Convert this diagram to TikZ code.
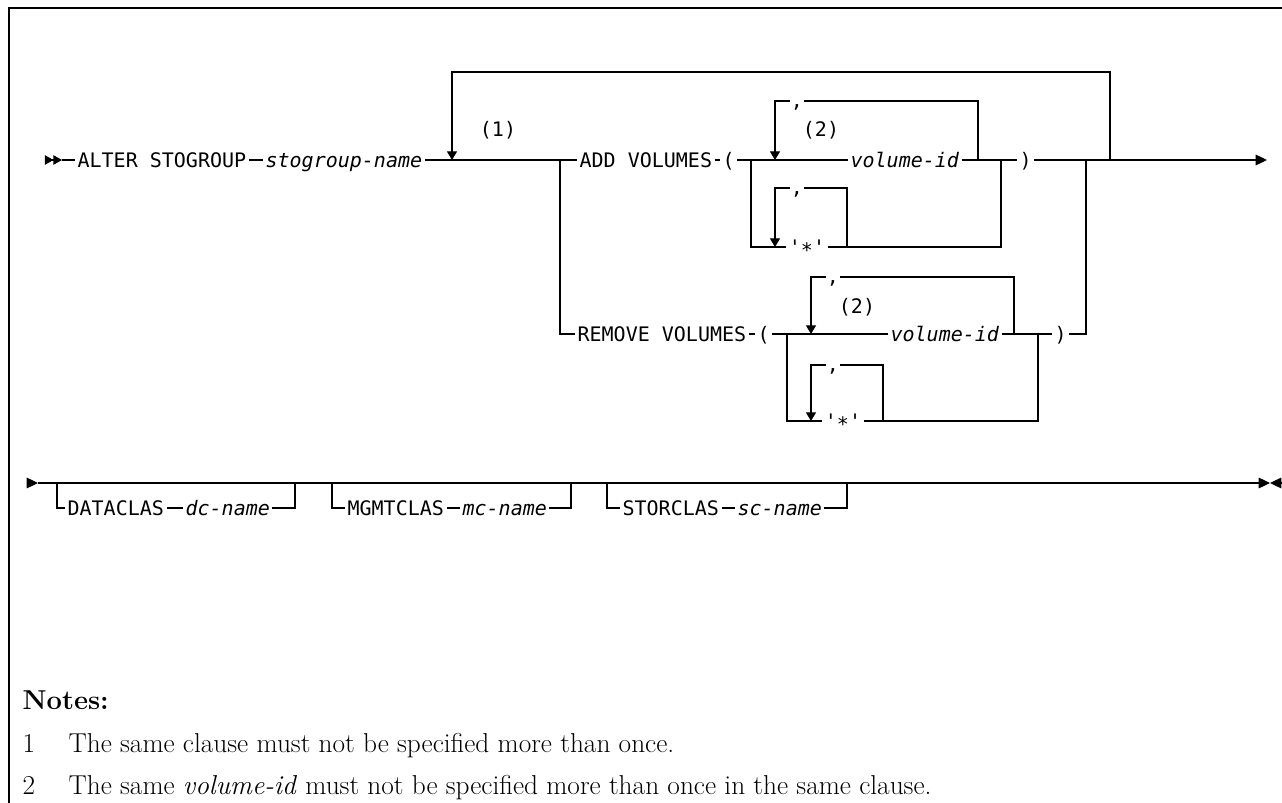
\documentclass[tikz,border=0pt]{standalone}
\usepackage{fontspec}
\setmonofont{DejaVu Sans Mono}
\usepackage{tikz}
\usetikzlibrary{positioning, arrows.meta, calc}
\newcommand\railfont{\ttfamily\fontsize{15}{18}\selectfont}
\newcommand\notefont{\rmfamily\fontsize{20.5}{24}\selectfont}
\newcommand\starmark{'\raisebox{-2.5pt}{*}'}

\begin{document}
\begin{tikzpicture}[
    x=0.75pt, y=-0.75pt,
    line width=0.9pt,
    kw/.style={font=\railfont, inner xsep=1.5pt, inner ysep=0pt,
               text height=10.9pt, text depth=0pt, anchor=west},
    var/.style={kw, font=\railfont\itshape},
    refmark/.style={font=\railfont, inner sep=0pt},
    commabox/.style={font=\railfont, fill=white, inner xsep=1pt, inner ysep=0pt,
                     text height=6pt, text depth=2pt, anchor=base},
    back/.style={-{Triangle[length=6.5pt, width=7.5pt]}},
    exit/.style={-{Triangle[length=8.5pt, width=8pt]}},
    twin/.style={-{Triangle[length=6.4pt, width=7pt] Triangle[length=6.4pt, width=7pt]}},
    notetext/.style={font=\notefont, anchor=base west, inner sep=0pt},
]
\useasboundingbox (0,0) rectangle (1282,803);

% --- frame ---
\draw[line width=1.1pt] (9,803) -- (9,8) -- (1282,8);

% ============== first line ==============
\coordinate (go) at (45,160);
\coordinate (goend) at (62,160);
\node[kw] (alter) at (75,160) {ALTER STOGROUP};
\node[var] (sgname) at (263,160) {stogroup-name};
\coordinate (rep) at (452,160);
\coordinate (fork) at (560,160);
\node[refmark] (mark1) at (498,130) {(1)};

% --- ADD VOLUMES ---
\node[kw] (add) at (577,160) {ADD VOLUMES};
\node[kw] (aopen) at (720,160) {(};
\coordinate (afork) at (751,160);
\coordinate (arep) at (775,160);
\node[var] (avol) at (848,160) {volume-id};
\coordinate (arepend) at (978,160);
\coordinate (ajoin) at (1001,160);
\node[kw] (aclose) at (1017,160) {)};
\coordinate (join) at (1086,160);
\coordinate (repend) at (1110,160);
\coordinate (stop) at (1267,160);
\coordinate (reptop) at (1110,72);
\coordinate (areptop) at (978,101);
\node[refmark] (mark2a) at (821,130) {(2)};

\node[kw, anchor=center] (astar) at (807,247) {\starmark};
\coordinate (astarrep) at (775,247);
\coordinate (astarend) at (847,247);
\coordinate (astartop) at (847,188);

% --- REMOVE VOLUMES ---
\node[kw] (remove) at (575,334) {REMOVE VOLUMES};
\node[kw] (ropen) at (755,334) {(};
\coordinate (rfork) at (787,334);
\coordinate (rrep) at (811,334);
\node[var] (rvol) at (888,334) {volume-id};
\coordinate (rrepend) at (1014,334);
\coordinate (rjoin) at (1038,334);
\node[kw] (rclose) at (1052,334) {)};
\coordinate (rreptop) at (1014,277);
\node[refmark] (mark2r) at (857,307) {(2)};

\node[kw, anchor=center] (rstar) at (843,421) {\starmark};
\coordinate (rstarrep) at (811,421);
\coordinate (rstarend) at (883,421);
\coordinate (rstartop) at (883,365);

% --- arrows, first line ---
\draw[twin] (go) -- (goend);
\draw (goend) -- (alter);
\draw (alter) -- (sgname);
\draw (sgname) -- (add);
\draw[back] (repend) -- (reptop) -| (rep);
\draw (fork) |- (remove);

\draw (add) -- (aopen);
\draw (aopen) -- (avol);
\draw (avol) -- (aclose);
\draw[exit] (aclose) -- (stop);
\draw[back] (arepend) -- (areptop) -| (arep);
\draw (afork) |- (astar);
\draw (astar) -| (ajoin);
\draw[back] (astarend) -- (astartop) -| (astarrep);

\draw (remove) -- (ropen);
\draw (ropen) -- (rvol);
\draw (rvol) -- (rclose);
\draw (rclose) -| (join);
\draw[back] (rrepend) -- (rreptop) -| (rrep);
\draw (rfork) |- (rstar);
\draw (rstar) -| (rjoin);
\draw[back] (rstarend) -- (rstartop) -| (rstarrep);

% --- repeat separators (on top of the loop lines) ---
\node[commabox] (acomma) at (797,107) {,};
\node[commabox] (astarcomma) at (797,194) {,};
\node[commabox] (rcomma) at (833,283) {,};
\node[commabox] (rstarcomma) at (833,371) {,};

% ============== second line ==============
\coordinate (go2) at (27,483);
\coordinate (go2end) at (38,483);
\coordinate (stop2) at (1270,483);
\coordinate (stop2r) at (1281,483);

\node[kw] (dclas) at (65,508) {DATACLAS};
\node[var] (dname) at (183,508) {dc-name};
\coordinate (dfork) at (57,483);
\coordinate (djoin) at (295,483);

\node[kw] (mclas) at (345,508) {MGMTCLAS};
\node[var] (mname) at (460,508) {mc-name};
\coordinate (mfork) at (332,483);
\coordinate (mjoin) at (571,483);

\node[kw] (sclas) at (620,508) {STORCLAS};
\node[var] (sname) at (735,508) {sc-name};
\coordinate (sfork) at (607,483);
\coordinate (sjoin) at (847,483);

\draw[exit] (go2) -- (go2end);
\draw[exit] (go2end) -- (stop2);
\draw[exit] (stop2r) -- (stop2);
\draw (dfork) |- (dclas);
\draw (dclas) -- (dname);
\draw (dname) -| (djoin);
\draw (mfork) |- (mclas);
\draw (mclas) -- (mname);
\draw (mname) -| (mjoin);
\draw (sfork) |- (sclas);
\draw (sclas) -- (sname);
\draw (sname) -| (sjoin);

% ============== notes ==============
\node[notetext, font=\notefont\bfseries] (notes) at (22,709) {Notes:};
\node[notetext] (n1) at (22,752) {1};
\node[notetext] (t1) at (68,752) {The same clause must not be specified more than once.};
\node[notetext] (n2) at (22,794) {2};
\node[notetext] (t2) at (68,794)
    {The same \textit{volume-id} must not be specified more than once in the same clause.};

\end{tikzpicture}
\end{document}
